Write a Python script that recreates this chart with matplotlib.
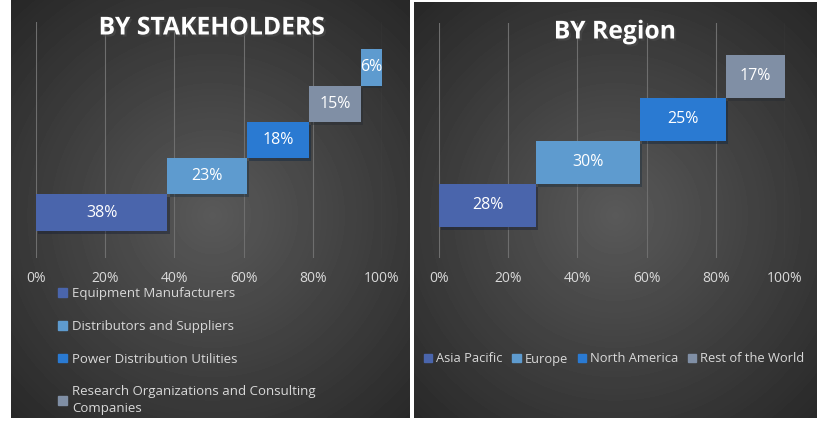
import matplotlib.pyplot as plt
import matplotlib.patheffects as pe
import numpy as np
from matplotlib.patches import Patch

# data
stake_labels = ["Equipment Manufacturers", "Distributors and Suppliers",
                "Power Distribution Utilities",
                "Research Organizations and Consulting\nCompanies"]
stake_values = [38, 23, 18, 15, 6]
stake_colors = ["#4A65AC", "#5E9BCF", "#2A7AD2", "#808FA5", "#5E9BCF"]

region_labels = ["Asia Pacific", "Europe", "North America", "Rest of the World"]
region_values = [28, 30, 25, 17]
region_colors = ["#4A65AC", "#5E9BCF", "#2A7AD2", "#808FA5"]

ticks = [0, 20, 40, 60, 80, 100]
tick_labels = ["0%", "20%", "40%", "60%", "80%", "100%"]

W, H = 827, 430
plt.rcParams["font.family"] = ["Open Sans", "DejaVu Sans"]
fig = plt.figure(figsize=(W / 100, H / 100), dpi=100, facecolor="white")


def px_axes(x0, y0, x1, y1):
    return fig.add_axes([x0 / W, 1 - y1 / H, (x1 - x0) / W, (y1 - y0) / H])


def background(x0, y0, x1, y1, cx, cy):
    ax = px_axes(x0, y0, x1, y1)
    xx, yy = np.meshgrid(np.arange(x0, x1), np.arange(y0, y1))
    r = np.hypot(xx - cx, yy - cy) / 300.0
    v = 0.35 - 0.20 * np.clip(r, 0, 1)
    ax.imshow(v, cmap="gray", vmin=0, vmax=1, aspect="auto",
              interpolation="bilinear")
    ax.axis("off")


def panel(ax, values, colors, ymax_pad):
    n = len(values)
    lefts = np.concatenate([[0], np.cumsum(values)[:-1]])
    rows = np.arange(n)
    bars = ax.barh(rows, values, left=lefts, height=1.0, color=colors,
                   zorder=3)
    for b in bars:
        b.set_path_effects([pe.SimplePatchShadow(offset=(1.5, -2), alpha=0.45),
                            pe.Normal()])
    for row, left, val in zip(rows, lefts, values):
        ax.text(left + val / 2, row, f"{val}%", ha="center", va="center",
                color="white", fontsize=11.5, zorder=4)
    ax.set_xlim(0, 100)
    ax.set_ylim(-ymax_pad[0], n - 1 + ymax_pad[1])
    ax.set_xticks(ticks)
    ax.set_xticklabels(tick_labels)
    ax.set_yticks([])
    ax.grid(axis="x", color="#6E6E6E", linewidth=0.8, zorder=0)
    ax.tick_params(axis="x", length=0, pad=9, colors="#D9D9D9", labelsize=10)
    ax.set_facecolor("none")
    for s in ax.spines.values():
        s.set_visible(False)


background(11, 0, 410, 418, 212, 215)
background(414, 2, 817, 418, 615, 215)

ax1 = px_axes(36, 22, 382, 258)
panel(ax1, stake_values, stake_colors, (1.25, 1.25))
ax2 = px_axes(439, 23, 785, 258)
panel(ax2, region_values, region_colors, (1.22, 1.24))

title_fx = [pe.withSimplePatchShadow(offset=(1.5, -1.5), alpha=0.6)]
fig.text(212 / W, 1 - 28 / H, "BY STAKEHOLDERS", ha="center", va="center",
         color="white", fontsize=17.8, fontweight="bold", path_effects=title_fx)
fig.text(615 / W, 1 - 32 / H, "BY Region", ha="center", va="center",
         color="white", fontsize=17.8, fontweight="bold", path_effects=title_fx)

h1 = [Patch(color=c) for c in stake_colors[:4]]
leg1 = fig.legend(h1, stake_labels, loc="upper left",
                  bbox_to_anchor=(58 / W, 1 - 287 / H), frameon=False,
                  fontsize=9.5, labelcolor="#D9D9D9", handlelength=0.65,
                  handleheight=0.65, handletextpad=0.4, labelspacing=1.5,
                  borderpad=0, borderaxespad=0)
for t in leg1.get_texts():
    t.set_linespacing(1.35)

h2 = [Patch(color=c) for c in region_colors]
fig.legend(h2, region_labels, loc="center left",
           bbox_to_anchor=(424 / W, 1 - 359 / H), frameon=False, ncol=4,
           fontsize=9.3, labelcolor="#D9D9D9", handlelength=0.65,
           handleheight=0.65, handletextpad=0.3, columnspacing=0.75,
           borderpad=0, borderaxespad=0)

fig.savefig("out.png", dpi=100, facecolor="white")
